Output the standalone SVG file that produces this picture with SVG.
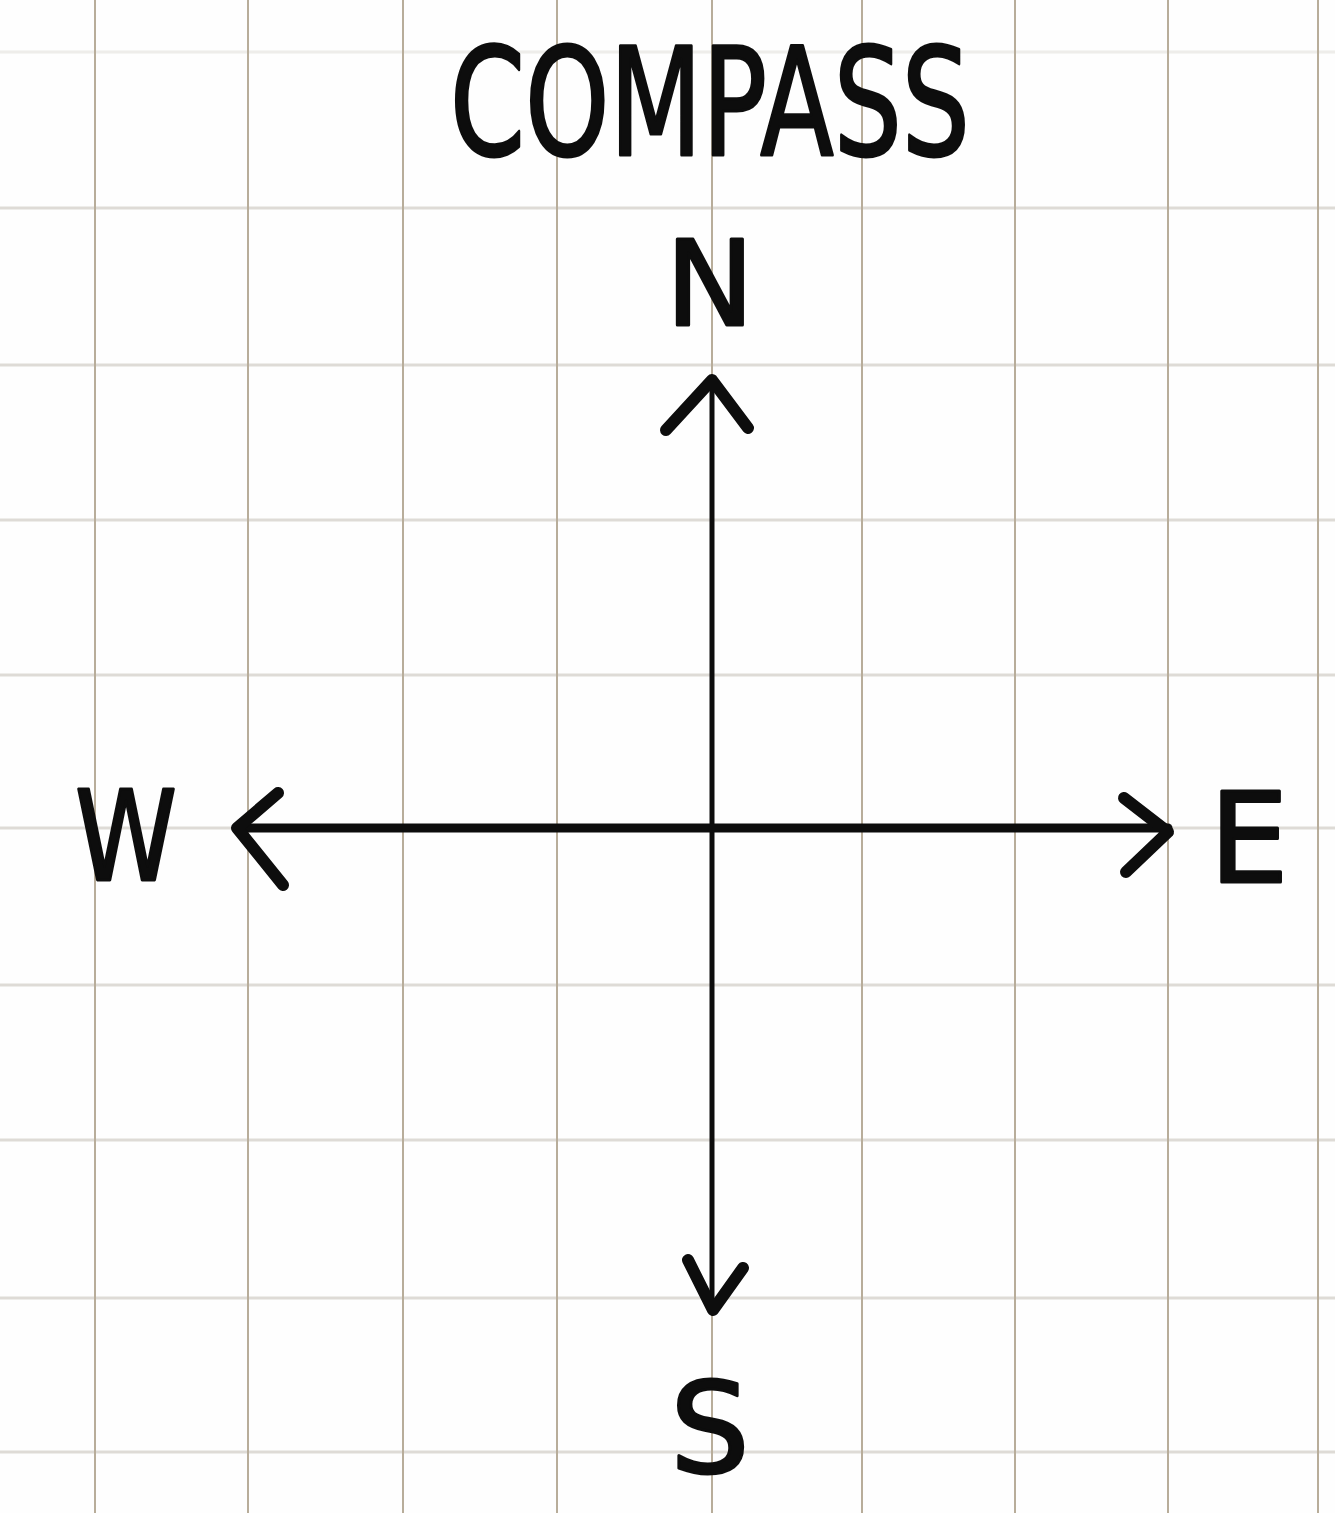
<svg xmlns="http://www.w3.org/2000/svg" width="1335" height="1513" viewBox="0 0 1335 1513">
<style>
.bg{fill:#fefefe}
.gv{stroke:#b8ad9a;stroke-width:2;fill:none}
.gh{stroke:#dedbd6;stroke-width:3;fill:none}
.ax{stroke:#0d0d0d;fill:none;stroke-linecap:round;stroke-linejoin:round}
.hd{stroke:#0d0d0d;stroke-width:12;fill:none;stroke-linecap:round;stroke-linejoin:round}
.lb{font-family:"DejaVu Sans","Liberation Sans",sans-serif;fill:#0d0d0d;stroke:#0d0d0d;stroke-width:3;stroke-linejoin:round;text-anchor:middle}
</style>
<rect class="bg" x="0" y="0" width="1335" height="1513"/>
<g id="grid">
<path class="gh" stroke-opacity="0.5" d="M0 52H1335"/>
<path class="gh" d="M0 208H1335M0 365H1335M0 520H1335M0 675H1335M0 828H1335M0 985H1335M0 1140H1335M0 1298H1335M0 1452H1335"/>
<path class="gv" d="M95 0V1513M248 0V1513M403 0V1513M557 0V1513M712 0V1513M862 0V1513M1015 0V1513M1168 0V1513M1318 0V1513"/>
</g>
<g id="title">
<text class="lb" y="155" font-size="150" textLength="520" x="710" lengthAdjust="spacingAndGlyphs">COMPASS</text>
</g>
<g id="connectors">
<path class="ax" stroke-width="5" d="M712 378V1310"/>
<path class="ax" stroke-width="9" d="M238 828H1168"/>
<path class="hd" d="M666 430L712 380L748 428"/>
<path class="hd" d="M688 1260L713 1310L743 1268"/>
<path class="hd" d="M278 793L237 828L283 885"/>
<path class="hd" d="M1124 798L1168 832L1126 872"/>
</g>
<g id="north"><text class="lb" x="710" y="325" font-size="118">N</text></g>
<g id="south"><text class="lb" x="710" y="1472" font-size="125">S</text></g>
<g id="west"><text class="lb" x="126" y="880" font-size="125" textLength="102" lengthAdjust="spacingAndGlyphs">W</text></g>
<g id="east"><text class="lb" x="1249" y="882" font-size="125">E</text></g>
</svg>
